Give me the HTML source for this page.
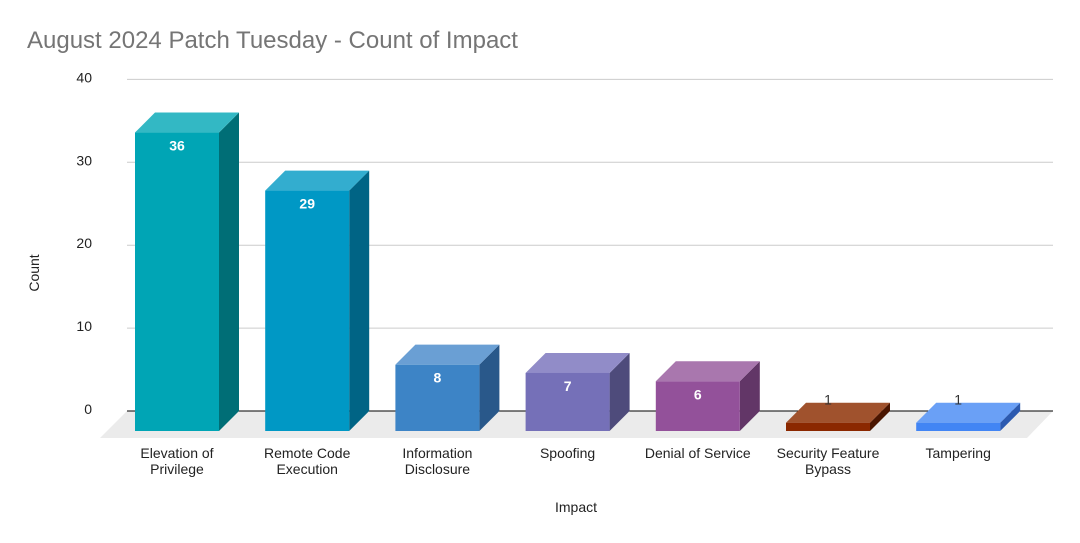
<!DOCTYPE html>
<html><head><meta charset="utf-8"><style>
body{margin:0;background:#fff;}
svg{display:block;font-family:"Liberation Sans",Arial,sans-serif;}
</style></head><body>
<svg id="chart" width="1080" height="543" viewBox="0 0 1080 543">
<text x="27" y="48" font-size="24" fill="#757575">August 2024 Patch Tuesday - Count of Impact</text>
<polygon points="100,438 1027,438 1053,411 127,411" fill="#ebebeb"/>
<g id="grid"></g>
<g id="bars"></g>
<text x="576" y="512" font-size="14" fill="#222" text-anchor="middle">Impact</text>
<text transform="translate(39,273) rotate(-90)" font-size="14" fill="#222" text-anchor="middle">Count</text>
</svg>
<script>
const categories=[["Elevation of","Privilege"],["Remote Code","Execution"],["Information","Disclosure"],["Spoofing"],["Denial of Service"],["Security Feature","Bypass"],["Tampering"]];
const values=[36,29,8,7,6,1,1];
const yTicks=[0,10,20,30,40];
const fronts=["#00a5b5","#0098c5","#3d84c6","#7570b8","#93519a","#8b2800","#4285f4"];
const tops=["#33b8c4","#33adcf","#6a9fd4","#918cc8","#a977ae","#a0522d","#6aa0f6"];
const sides=["#006e76","#006485","#29588a","#4e4b7b","#623667","#4a1500","#2c5ab0"];
const NS="http://www.w3.org/2000/svg";
const y0=411, unit=8.29, dep=20, bw=84;
const yScale=v=>y0-v*unit;
const xScale=i=>135+i*130.2;
function mk(tag,attrs,parent){const e=document.createElementNS(NS,tag);for(const k in attrs)e.setAttribute(k,attrs[k]);parent.appendChild(e);return e;}
const grid=document.getElementById('grid'), bars=document.getElementById('bars');
yTicks.forEach(t=>{
  const y=yScale(t);
  const l=mk('line',{x1:127,x2:1053,y1:y,y2:y,stroke:t===0?'#000':'#ccc','stroke-width':1},grid);
  
  
  const tx=mk('text',{x:92,y:y+3,'font-size':14,fill:'#222','text-anchor':'end'},grid);
  tx.textContent=t;
  
  
});
values.forEach((v,i)=>{
  const x=xScale(i), yb=y0+dep, yt=yb-v*unit;
  const g=mk('g',{},bars);
  
  
  mk('polygon',{points:`${x+bw},${yt} ${x+bw+dep},${yt-dep} ${x+bw+dep},${yb-dep} ${x+bw},${yb}`,fill:sides[i]},g);
  mk('polygon',{points:`${x},${yt} ${x+dep},${yt-dep} ${x+bw+dep},${yt-dep} ${x+bw},${yt}`,fill:tops[i]},g);
  mk('rect',{x:x,y:yt,width:bw,height:yb-yt,fill:fronts[i]},g);
  const small=v*unit<20;
  const lb=mk('text',{x:x+bw/2,y:small?yt-dep+2:yt+18,'font-size':14,'font-weight':small?'normal':'bold',fill:small?'#333':'#fff','text-anchor':'middle'},g);
  lb.textContent=v;
  
  
  const cl=mk('text',{x:x+bw/2,y:458,'font-size':14,fill:'#222','text-anchor':'middle'},g);
  
  
  categories[i].forEach((s,j)=>{const ts=mk('tspan',{x:x+bw/2,dy:j?16:0},cl);ts.textContent=s;});
});
</script>
</body></html>
